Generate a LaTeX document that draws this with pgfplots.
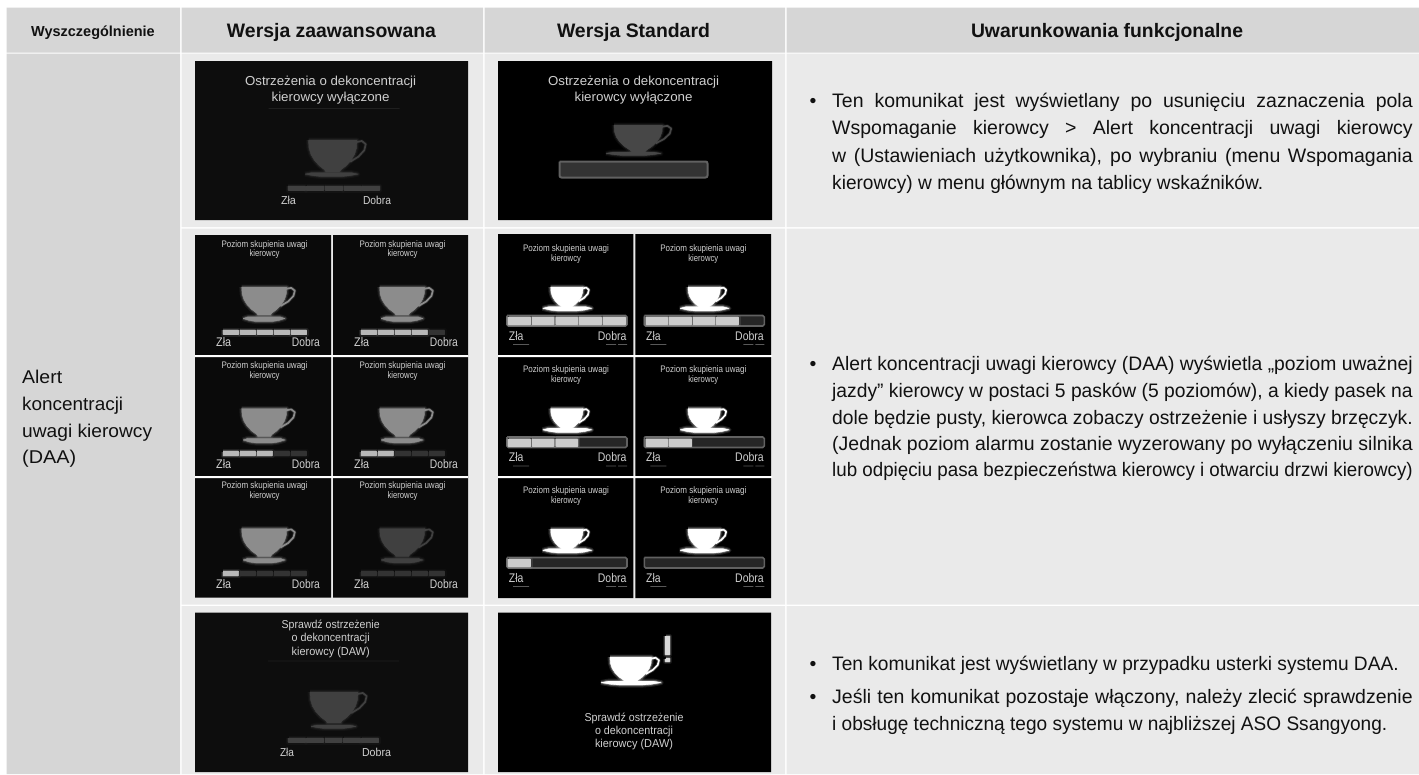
\documentclass[border=0pt]{standalone}
\usepackage{pgfplots}
\usepackage{pgfplotstable}
\usepackage{graphicx}
\usepackage{fontspec}
\setmainfont{Liberation Sans}
\pgfplotsset{compat=1.18}
\definecolor{hd}{HTML}{D6D6D6}
\definecolor{cl}{HTML}{EAEAEA}
\definecolor{tt}{HTML}{111111}
\definecolor{pt}{HTML}{D0D0D0}
\pgfplotstableread{
x y
0 0
1 0
1 1
0 1
0 0
}\rct
\pgfplotstableread{
x y
0 0
1 0
0.99 0.25
0.95 0.45
0.88 0.63
0.78 0.8
0.67 0.93
0.64 1
0.36 1
0.33 0.93
0.22 0.8
0.12 0.63
0.05 0.45
0.01 0.25
0 0
}\cbody
\pgfplotstableread{
x y
0.97 0.07
1.1 0.03
1.18 0.13
1.15 0.32
1.03 0.52
0.86 0.68
}\chandle
\pgfplotstableread{
x y
0 0.4
0.12 0.05
0.88 0.05
1 0.4
0.85 0.8
0.7 1
0.3 1
0.15 0.8
0 0.4
}\csaucer
\pgfplotsset{
 flat/.style={draw=none,fill=#1},
 glow/.style={draw=#1,fill=#1,line width=0.4,line join=round,
   preaction={draw=#1,line width=5,opacity=.12,line join=round},
   preaction={draw=#1,line width=2.6,opacity=.28,line join=round}},
 hglow/.style={draw=#1,line width=1.7,line join=round,
   preaction={draw=#1,line width=3.4,opacity=.2,line join=round}},
}
\newcommand\Sh[6]{\addplot[#6] table[x expr={#2+(#3)*\thisrow{x}},y expr={#4+(#5)*\thisrow{y}}] {#1};}
\newcommand\R[5]{\Sh{\rct}{#1}{#2}{#3}{#4}{flat=#5}}
\newcommand\GR[5]{\Sh{\rct}{#1}{#2}{#3}{#4}{glow=#5}}
% x0 w y0 h | sx0 sw sy sh | colour
\newcommand\Cup[9]{%
 \Sh{\chandle}{#1}{#2}{#3}{#4}{hglow=#9}%
 \Sh{\cbody}{#1}{#2}{#3}{#4}{glow=#9}%
 \Sh{\csaucer}{#5}{#6}{#7}{#8}{glow=#9}}
\newsavebox\tb
% centre text x y W size colour text
\newcommand\Tc[6]{\node[anchor=base,inner sep=0pt,text=#5] at (axis cs:{#1},{#2}) {\fontsize{#4}{#4}\selectfont\resizebox{#3pt}{\height}{#6}};}
\newcommand\Tl[6]{\node[anchor=base west,inner sep=0pt,text=#5] at (axis cs:{#1},{#2}) {\fontsize{#4}{#4}\selectfont\resizebox{#3pt}{\height}{#6}};}
% justified line x y W text
\newcommand\J[4]{\node[anchor=base west,inner sep=0pt,text=tt] at (axis cs:{#1},{#2}) {\fontsize{19.5}{19.5}\selectfont\sbox\tb{#4}\ifdim\wd\tb>#3pt\resizebox{#3pt}{\height}{\usebox\tb}\else\makebox[#3pt][s]{#4}\fi};}
\newcommand\Bul[1]{\node[anchor=base,inner sep=0pt,text=tt] at (axis cs:813,#1) {\fontsize{19.5}{19.5}\selectfont•};}
% advanced small panel: ox oy level cupcol
\newcommand\Seg[6]{\ifnum\numexpr#5\relax>0 \GR{#1}{#2}{#3}{#4}{#6}\else \GR{#1}{#2}{#3}{#4}{black!80!white}\fi}
\newcommand\AP[5]{%
 \R{#1}{#4}{#2+235}{121}{black!96!white}%
 \Tc{#1+69.5}{#2+247}{86}{9.5}{pt}{Poziom skupienia uwagi}%
 \Tc{#1+69.5}{#2+256.5}{30}{9.5}{pt}{kierowcy}%
 \Cup{#1+46.7}{45}{#2+287}{28}{#1+48}{42}{#2+316.5}{5}{#5}%
 \Seg{#1+28}{15}{#2+330}{4}{#3-0}{black!28!white}%
 \Seg{#1+45}{15}{#2+330}{4}{#3-1}{black!28!white}%
 \Seg{#1+62}{15}{#2+330}{4}{#3-2}{black!28!white}%
 \Seg{#1+79}{15}{#2+330}{4}{#3-3}{black!28!white}%
 \Seg{#1+96}{15}{#2+330}{4}{#3-4}{black!28!white}%
 \Tl{#1+21}{#2+346.7}{15}{12.5}{pt}{Zła}%
 \Tl{#1+96.7}{#2+346.7}{28}{12.5}{pt}{Dobra}}
\newcommand\SegS[5]{\ifnum\numexpr#5\relax>0 \GR{#1}{#2}{#3}{#4}{black!20!white}\fi}
\newcommand\SP[4]{%
 \R{#1}{#4}{#2+234}{122}{black}%
 \Tc{#1+68}{#2+251}{86}{9.5}{pt}{Poziom skupienia uwagi}%
 \Tc{#1+68}{#2+261}{30}{9.5}{pt}{kierowcy}%
 \Cup{#1+52.7}{32.3}{#2+287}{21}{#1+44.7}{49}{#2+306.5}{4.5}{white}%
 \Sh{\rct}{#1+9}{120}{#2+315.5}{10.5}{draw=black!62!white,line width=1.6,fill=black!85!white,rounded corners=1.5pt}%
 \SegS{#1+10.5}{21.5}{#2+317.3}{7}{#3-0}%
 \SegS{#1+34.1}{21.5}{#2+317.3}{7}{#3-1}%
 \SegS{#1+57.7}{21.5}{#2+317.3}{7}{#3-2}%
 \SegS{#1+81.3}{21.5}{#2+317.3}{7}{#3-3}%
 \SegS{#1+104.9}{22}{#2+317.3}{7}{#3-4}%
 \Tl{#1+10.7}{#2+340}{14.5}{12.5}{pt}{Zła}%
 \Tl{#1+99.7}{#2+340}{28.5}{12.5}{pt}{Dobra}%
 \R{#1+15}{16}{#2+344}{0.8}{black!65!white}%
 \R{#1+108}{10}{#2+344}{0.8}{black!65!white}%
 \R{#1+120}{9}{#2+344}{0.8}{black!65!white}}
\begin{document}
\begin{tikzpicture}
\begin{axis}[scale only axis,width=1419pt,height=774pt,xmin=0,xmax=1419,ymin=0,ymax=774,
  y dir=reverse,hide axis,enlargelimits=false,no markers,clip=true]
\R{0}{1419}{0}{774}{white}
% header
\R{6.5}{173.5}{7.5}{45}{hd}
\R{181.5}{301.5}{7.5}{45}{hd}
\R{484.5}{300.5}{7.5}{45}{hd}
\R{786.5}{632.5}{7.5}{45}{hd}
% first column
\R{6.5}{173.5}{53.5}{720.5}{hd}
% cells
\R{181.5}{301.5}{53.5}{173.5}{cl}
\R{484.5}{300.5}{53.5}{173.5}{cl}
\R{786.5}{632.5}{53.5}{173.5}{cl}
\R{181.5}{301.5}{228.5}{376}{cl}
\R{484.5}{300.5}{228.5}{376}{cl}
\R{786.5}{632.5}{228.5}{376}{cl}
\R{181.5}{301.5}{606}{168}{cl}
\R{484.5}{300.5}{606}{168}{cl}
\R{786.5}{632.5}{606}{168}{cl}
% header text
\Tc{93}{36}{123.5}{14.5}{tt}{\bfseries Wyszczególnienie}
\Tc{331.5}{37}{209}{19.5}{tt}{\bfseries Wersja zaawansowana}
\Tc{633.5}{37}{153}{19.5}{tt}{\bfseries Wersja Standard}
\Tc{1107}{37}{272}{19.5}{tt}{\bfseries Uwarunkowania funkcjonalne}
% first column text
\Tl{22}{383}{40}{18.5}{tt}{Alert}
\Tl{22}{410}{101}{18.5}{tt}{koncentracji}
\Tl{22}{437}{130}{18.5}{tt}{uwagi kierowcy}
\Tl{22}{463}{54}{18.5}{tt}{(DAA)}
% row 1, advanced
\R{195}{273}{61}{159}{black!95!white}
\Tc{330.6}{85}{171}{13}{pt}{Ostrzeżenia o dekoncentracji}
\Tc{330.6}{101}{118}{13}{pt}{kierowcy wyłączone}
\R{268.6}{131}{108}{0.8}{black!88!white}
\Cup{308.5}{48.5}{140}{32}{305}{53}{172.5}{4}{black!75!white}
\GR{288}{17}{186}{4}{black!75!white}
\GR{306.6}{17}{186}{4}{black!75!white}
\GR{325.2}{17}{186}{4}{black!75!white}
\GR{343.8}{17}{186}{4}{black!75!white}
\GR{362.4}{17}{186}{4}{black!75!white}
\Tc{288.5}{204}{15}{11.5}{pt}{Zła}
\Tc{377}{204}{28}{11.5}{pt}{Dobra}
% row 1, standard
\R{498}{274}{61}{159}{black}
\Tc{633.6}{85}{171}{13}{pt}{Ostrzeżenia o dekoncentracji}
\Tc{633.6}{101}{118}{13}{pt}{kierowcy wyłączone}
\Cup{614}{48.5}{125}{27}{606}{55}{152}{3.5}{black!72!white}
\Sh{\rct}{559.5}{148}{161.5}{16}{draw=black!62!white,line width=2,fill=black!80!white,rounded corners=2pt}
% row 2, advanced
\AP{195}{0}{5}{136}{black!45!white}
\AP{333}{0}{4}{135}{black!45!white}
\AP{195}{121.5}{3}{136}{black!45!white}
\AP{333}{121.5}{2}{135}{black!45!white}
\AP{195}{241.5}{1}{136}{black!45!white}
\AP{333}{241.5}{0}{135}{black!75!white}
% row 2, standard
\SP{498}{0}{5}{135.3}
\SP{635.3}{0}{4}{135.7}
\SP{498}{121.5}{3}{135.3}
\SP{635.3}{121.5}{2}{135.7}
\SP{498}{242}{1}{135.3}
\SP{635.3}{242}{0}{135.7}
% white rules between the small panels
\R{195}{273}{355}{2}{white}
\R{195}{273}{476}{2}{white}
\R{498}{274}{355}{2}{white}
\R{498}{274}{476}{2}{white}
% row 3, advanced
\R{195}{273}{612.5}{159.5}{black!95!white}
\Tc{330.7}{628}{98}{11.5}{pt}{Sprawdź ostrzeżenie}
\Tc{330.7}{641.5}{78}{11.5}{pt}{o dekoncentracji}
\Tc{330.7}{655}{78}{11.5}{pt}{kierowcy (DAW)}
\R{268}{131}{660.5}{0.8}{black!88!white}
\Cup{310}{48}{692}{31}{311}{45}{725}{3.5}{black!75!white}
\GR{288.5}{16.5}{738}{4}{black!75!white}
\GR{306.5}{16.5}{738}{4}{black!75!white}
\GR{325}{16.5}{738}{4}{black!75!white}
\GR{343.5}{16.5}{738}{4}{black!75!white}
\GR{361.5}{16.5}{738}{4}{black!75!white}
\Tc{287}{756}{14}{11.5}{pt}{Zła}
\Tc{376.5}{756}{29}{11.5}{pt}{Dobra}
% row 3, standard
\R{498}{273}{612.5}{159.5}{black}
\Cup{610}{41.5}{657}{25}{601}{60}{681}{4}{white}
\GR{665.5}{4}{636}{18.5}{black!15!white}
\GR{665.5}{4}{658.5}{3}{black!15!white}
\Tc{634}{721.5}{99}{11.5}{pt}{Sprawdź ostrzeżenie}
\Tc{634}{734.5}{78}{11.5}{pt}{o dekoncentracji}
\Tc{634}{747.5}{78}{11.5}{pt}{kierowcy (DAW)}
% right column
\Bul{107}
\J{832}{107}{580.5}{Ten komunikat jest wyświetlany po usunięciu zaznaczenia pola}
\J{832}{134.6}{580.5}{Wspomaganie kierowcy > Alert koncentracji uwagi kierowcy}
\J{832}{162}{580.5}{w (Ustawieniach użytkownika), po wybraniu (menu Wspomagania}
\Tl{832}{189}{431}{19.5}{tt}{kierowcy) w menu głównym na tablicy wskaźników.}
\Bul{370}
\J{832}{370}{580.5}{Alert koncentracji uwagi kierowcy (DAA) wyświetla „poziom uważnej}
\J{832}{397}{580.5}{jazdy” kierowcy w postaci 5 pasków (5 poziomów), a kiedy pasek na}
\J{832}{424}{580.5}{dole będzie pusty, kierowca zobaczy ostrzeżenie i usłyszy brzęczyk.}
\J{832}{450}{580.5}{(Jednak poziom alarmu zostanie wyzerowany po wyłączeniu silnika}
\J{832}{476.6}{580.5}{lub odpięciu pasa bezpieczeństwa kierowcy i otwarciu drzwi kierowcy)}
\Bul{670}
\Tl{832}{670}{566.5}{19.5}{tt}{Ten komunikat jest wyświetlany w przypadku usterki systemu DAA.}
\Bul{703.3}
\J{832}{703.3}{580.5}{Jeśli ten komunikat pozostaje włączony, należy zlecić sprawdzenie}
\Tl{832}{730}{555}{19.5}{tt}{i obsługę techniczną tego systemu w najbliższej ASO Ssangyong.}
\end{axis}
\end{tikzpicture}
\end{document}
